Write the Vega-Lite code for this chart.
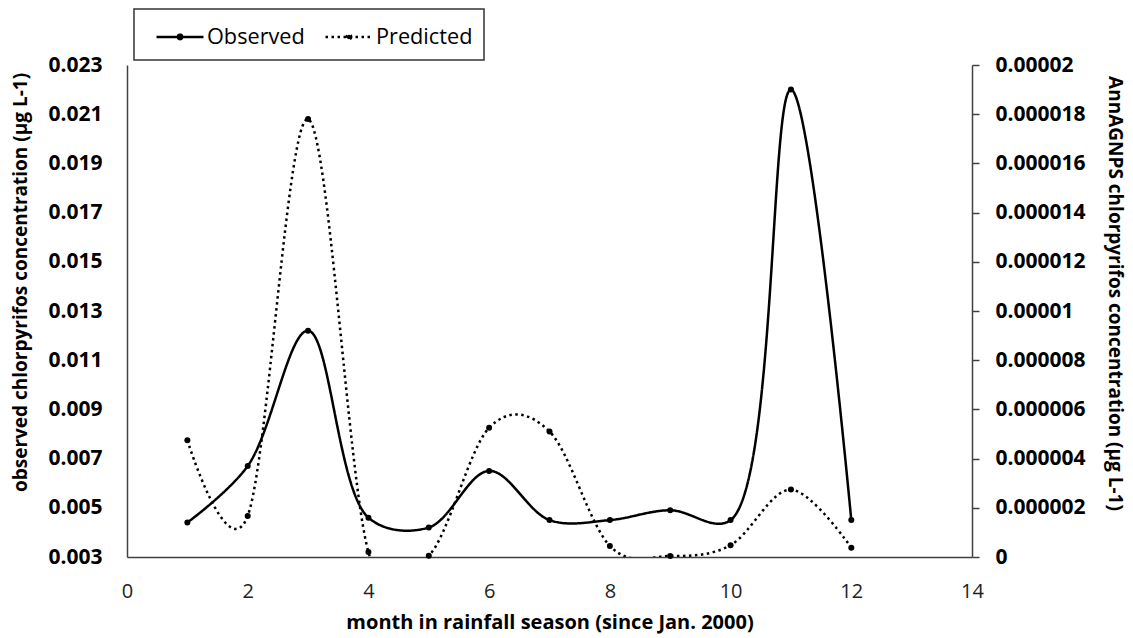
{
  "$schema": "https://vega.github.io/schema/vega-lite/v6.json",
  "width": 845,
  "height": 492,
  "autosize": {"type": "none"},
  "padding": {"left": 127, "top": 65, "right": 161, "bottom": 81},
  "background": "white",
  "config": {
    "view": {"stroke": null},
    "font": "Open Sans",
    "axis": {"grid": false, "domainColor": "#404040", "domainWidth": 1.5, "labelColor": "#000", "titleColor": "#000", "labelFlush": false, "labelOverlap": false}
  },
  "data": {
    "values": [
      {"month": 1, "series": "Observed", "value": 0.0044},
      {"month": 2, "series": "Observed", "value": 0.0067},
      {"month": 3, "series": "Observed", "value": 0.0122},
      {"month": 4, "series": "Observed", "value": 0.0046},
      {"month": 5, "series": "Observed", "value": 0.0042},
      {"month": 6, "series": "Observed", "value": 0.0065},
      {"month": 7, "series": "Observed", "value": 0.0045},
      {"month": 8, "series": "Observed", "value": 0.0045},
      {"month": 9, "series": "Observed", "value": 0.0049},
      {"month": 10, "series": "Observed", "value": 0.0045},
      {"month": 11, "series": "Observed", "value": 0.0220},
      {"month": 12, "series": "Observed", "value": 0.0045},
      {"month": 1, "series": "Predicted", "value": 0.00000475},
      {"month": 2, "series": "Predicted", "value": 0.00000167},
      {"month": 3, "series": "Predicted", "value": 0.0000178},
      {"month": 4, "series": "Predicted", "value": 0.0000002},
      {"month": 5, "series": "Predicted", "value": 0.00000005},
      {"month": 6, "series": "Predicted", "value": 0.00000525},
      {"month": 7, "series": "Predicted", "value": 0.0000051},
      {"month": 8, "series": "Predicted", "value": 0.00000045},
      {"month": 9, "series": "Predicted", "value": 0.00000004},
      {"month": 10, "series": "Predicted", "value": 0.00000048},
      {"month": 11, "series": "Predicted", "value": 0.00000274},
      {"month": 12, "series": "Predicted", "value": 0.00000038}
    ]
  },
  "encoding": {
    "x": {
      "field": "month", "type": "quantitative",
      "scale": {"domain": [0, 14], "nice": false, "zero": false},
      "axis": {
        "values": [0, 2, 4, 6, 8, 10, 12, 14], "format": "d",
        "title": "month in rainfall season (since Jan. 2000)",
        "ticks": false, "tickSize": 0, "labelPadding": 24,
        "labelFontSize": 20, "labelFontWeight": "normal", "labelColor": "#222",
        "titleFontSize": 20, "titleFontWeight": "bold",
        "titleBaseline": "alphabetic", "titleY": 71
      }
    }
  },
  "layer": [
    {
      "transform": [{"filter": "datum.series === 'Observed'"}],
      "encoding": {
        "y": {
          "field": "value", "type": "quantitative",
          "scale": {"domain": [0.003, 0.023], "nice": false, "zero": false},
          "axis": {
            "orient": "left",
            "values": [0.003, 0.005, 0.007, 0.009, 0.011, 0.013, 0.015, 0.017, 0.019, 0.021, 0.023],
            "format": ".3f",
            "title": "observed chlorpyrifos concentration (µg L-1)",
            "ticks": false, "tickSize": 0, "labelPadding": 25,
            "labelFontSize": 21, "labelFontWeight": "bold",
            "titleFontSize": 19, "titleFontWeight": "bold",
            "titleX": -107, "titleY": 217, "titleBaseline": "middle"
          }
        }
      },
      "layer": [
        {
          "mark": {"type": "line", "interpolate": "catmull-rom", "color": "black", "strokeWidth": 2.5, "clip": true},
          "encoding": {
            "strokeDash": {
              "field": "series", "type": "nominal",
              "scale": {"domain": ["Observed", "Predicted"], "range": [[1, 0], [2.5, 3.5]]},
              "legend": {
                "orient": "none", "legendX": 7, "legendY": -56, "direction": "horizontal", "title": null,
                "symbolType": "M-0.333,0L2.8,0M1.383,0A0.15,0.15,0,1,1,1.083,0A0.15,0.15,0,1,1,1.383,0Z",
                "symbolSize": 900, "symbolStrokeWidth": 2.5, "symbolStrokeColor": "black", "symbolFillColor": "black",
                "labelFontSize": 21.7, "labelFont": "Open Sans", "labelColor": "#000", "labelOffset": 29, "labelLimit": 300,
                "columnPadding": 9, "padding": 11, "strokeColor": "#333",
                "encode": {
                  "symbols": {"update": {"fill": {"value": "black"}, "stroke": {"value": "black"}, "strokeWidth": {"value": 2.5}, "opacity": {"value": 1}}},
                  "legend": {"update": {"strokeWidth": {"value": 1.5}}}
                }
              }
            }
          }
        },
        {
          "mark": {"type": "point", "filled": true, "color": "black", "size": 36, "opacity": 1}
        }
      ]
    },
    {
      "transform": [{"filter": "datum.series === 'Predicted'"}],
      "encoding": {
        "y": {
          "field": "value", "type": "quantitative",
          "scale": {"domain": [0, 0.00002], "nice": false, "zero": false},
          "axis": {
            "orient": "right",
            "values": [0, 0.000002, 0.000004, 0.000006, 0.000008, 0.00001, 0.000012, 0.000014, 0.000016, 0.000018, 0.00002],
            "format": ".6~f",
            "title": "AnnAGNPS chlorpyrifos concentration (µg L-1)",
            "ticks": true, "tickSize": 7, "tickColor": "#404040", "tickWidth": 1.5, "labelPadding": 16,
            "labelFontSize": 21, "labelFontWeight": "bold",
            "titleFontSize": 19, "titleFontWeight": "bold",
            "titleX": 142, "titleY": 228, "titleBaseline": "middle"
          }
        }
      },
      "layer": [
        {
          "mark": {"type": "line", "interpolate": "cardinal", "tension": 0, "color": "black", "strokeWidth": 2.5, "strokeCap": "butt", "clip": true},
          "encoding": {
            "strokeDash": {
              "field": "series", "type": "nominal",
              "scale": {"domain": ["Observed", "Predicted"], "range": [[1, 0], [2.5, 3.5]]},
              "legend": {
                "orient": "none", "legendX": 7, "legendY": -56, "direction": "horizontal", "title": null,
                "symbolType": "M-0.333,0L2.8,0M1.383,0A0.15,0.15,0,1,1,1.083,0A0.15,0.15,0,1,1,1.383,0Z",
                "symbolSize": 900, "symbolStrokeWidth": 2.5, "symbolStrokeColor": "black", "symbolFillColor": "black",
                "labelFontSize": 21.7, "labelFont": "Open Sans", "labelColor": "#000", "labelOffset": 29, "labelLimit": 300,
                "columnPadding": 9, "padding": 11, "strokeColor": "#333",
                "encode": {
                  "symbols": {"update": {"fill": {"value": "black"}, "stroke": {"value": "black"}, "strokeWidth": {"value": 2.5}, "opacity": {"value": 1}}},
                  "legend": {"update": {"strokeWidth": {"value": 1.5}}}
                }
              }
            }
          }
        },
        {
          "mark": {"type": "point", "filled": true, "color": "black", "size": 36, "opacity": 1}
        }
      ]
    }
  ],
  "resolve": {"scale": {"y": "independent"}}
}
